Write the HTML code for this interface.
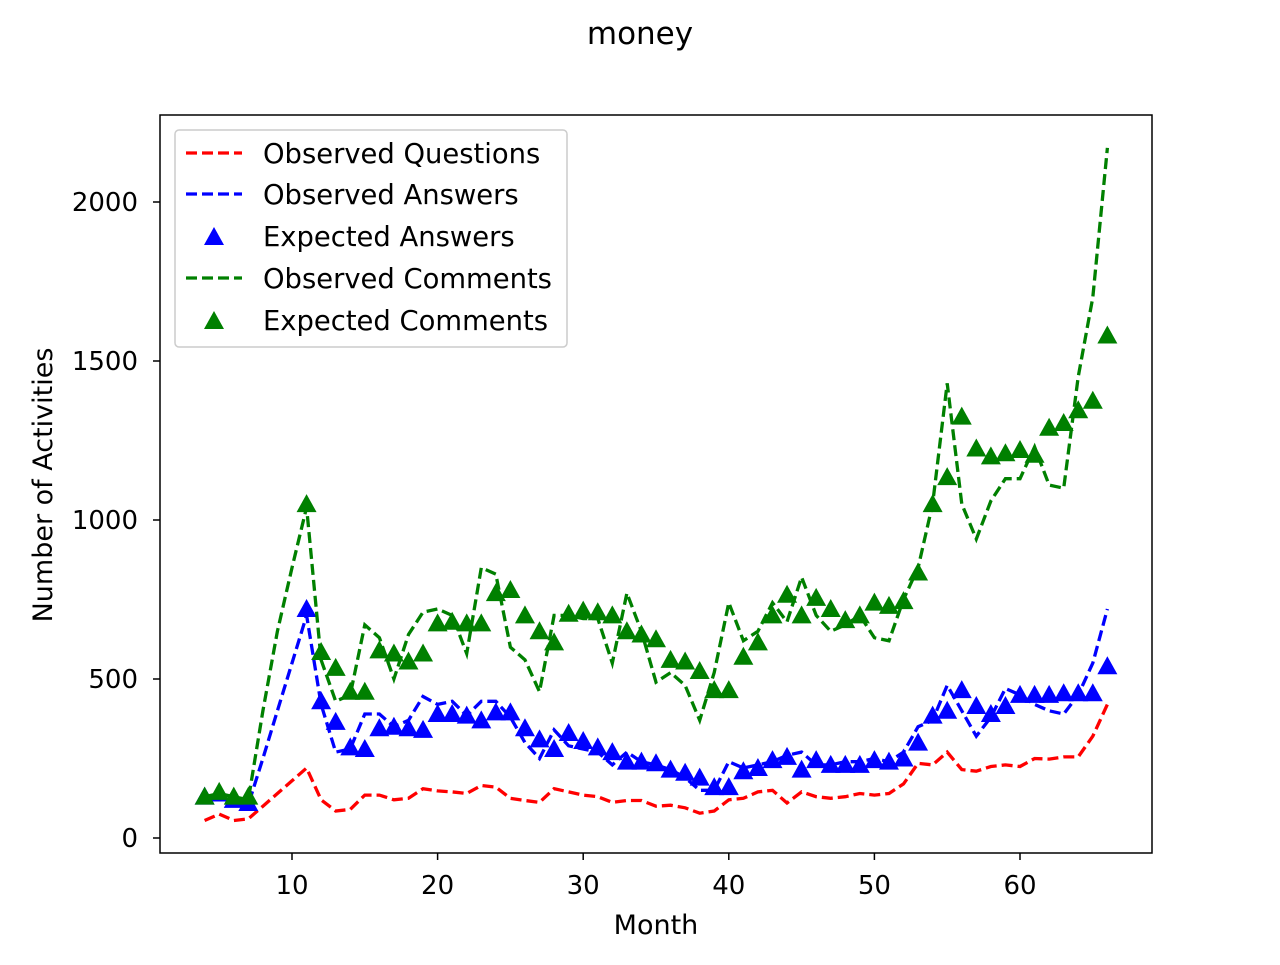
<!DOCTYPE html>
<html><head><meta charset="utf-8"><style>
body{margin:0;background:#fff;font-family:"Liberation Sans","DejaVu Sans",sans-serif}
svg text{font-family:"DejaVu Sans","Liberation Sans",sans-serif}
</style></head><body>
<svg id="chart" width="1280" height="960" xmlns="http://www.w3.org/2000/svg">
<rect width="1280" height="960" fill="#fff"/>
<text x="640" y="44" font-size="31" text-anchor="middle">money</text>
<g id="marks"></g>
<rect x="160" y="115" width="992" height="738" fill="none" stroke="#000" stroke-width="1.5"/>
<g id="axes"></g>
<text x="656" y="934" font-size="27" text-anchor="middle">Month</text>
<text x="52" y="485" font-size="27" text-anchor="middle" transform="rotate(-90 52 485)">Number of Activities</text>
<g>
<rect x="175" y="130" width="392" height="217" fill="#fff" fill-opacity="0.8" stroke="#ccc" stroke-width="1.5" rx="4"/>
<line x1="186" y1="153" x2="242" y2="153" stroke="red" stroke-width="3.3" stroke-dasharray="11,5"/>
<text x="263" y="163" font-size="27.4">Observed Questions</text>
<line x1="186" y1="194" x2="242" y2="194" stroke="blue" stroke-width="3.3" stroke-dasharray="11,5"/>
<text x="263" y="204" font-size="27.4">Observed Answers</text>
<polygon points="214,227 224,245 204,245" fill="blue"/>
<text x="263" y="246" font-size="27.4">Expected Answers</text>
<line x1="186" y1="278" x2="242" y2="278" stroke="green" stroke-width="3.3" stroke-dasharray="11,5"/>
<text x="263" y="288" font-size="27.4">Observed Comments</text>
<polygon points="214,311 224,329 204,329" fill="green"/>
<text x="263" y="330" font-size="27.4">Expected Comments</text>
</g>
</svg>
<script>
const months=[];for(let m=4;m<=66;m++)months.push(m);
const obsQuestions=[55,75,55,60,100,140,180,220,120,85,90,135,135,120,125,155,148,145,140,165,160,125,118,112,155,145,135,130,112,118,118,100,103,95,78,85,120,125,145,150,110,145,130,125,130,140,135,140,170,235,230,270,215,210,225,230,225,250,248,255,255,320,420];
const obsAnswers=[125,130,110,105,250,400,550,700,420,270,280,390,390,350,370,445,420,430,385,430,430,380,300,250,340,290,280,270,230,270,240,230,215,190,150,150,240,220,230,240,260,270,230,230,240,240,250,240,270,350,370,480,400,320,380,470,450,420,400,390,450,550,720];
const expAnswers=[130,140,120,110,null,null,null,720,430,365,285,280,345,350,345,340,390,390,385,370,395,395,345,310,280,330,305,285,270,240,240,235,215,205,190,160,160,210,220,245,255,215,245,230,230,230,245,240,250,300,385,400,465,415,390,415,450,450,450,455,455,455,540];
const obsComments=[130,140,130,120,400,650,850,1040,560,430,450,670,630,500,640,710,720,700,580,850,830,600,560,460,700,700,690,690,550,770,650,490,520,480,370,520,740,620,650,740,680,820,700,650,670,700,630,620,750,850,1050,1430,1050,940,1060,1130,1130,1230,1110,1100,1450,1700,2170];
const expComments=[130,145,130,130,null,null,null,1050,585,535,460,460,590,580,555,580,675,680,675,675,770,780,700,650,615,705,715,710,700,650,640,625,560,555,525,465,465,570,615,700,765,700,755,720,685,700,740,730,745,835,1050,1135,1325,1225,1200,1210,1220,1205,1290,1305,1345,1375,1580];
const xTicks=[10,20,30,40,50,60];
const yTicks=[0,500,1000,1500,2000];
const NS='http://www.w3.org/2000/svg';
const X=v=>292+(v-10)*14.56;
const Y=v=>838-v*0.318;
const marks=document.getElementById('marks'),axes=document.getElementById('axes');
function mk(t,a,p){const e=document.createElementNS(NS,t);for(const k in a)e.setAttribute(k,a[k]);p.appendChild(e);return e;}
function line(vals,color,name){
  const pts=vals.map((v,i)=>X(months[i]).toFixed(1)+','+Y(v).toFixed(1)).join(' ');
  const e=mk('polyline',{points:pts,fill:'none',stroke:color,'stroke-width':3.3,'stroke-dasharray':'11,5'},marks);
  
  
}
function tri(vals,color,name){
  vals.forEach((v,i)=>{if(v==null)return;const x=X(months[i]),y=Y(v);
    const e=mk('polygon',{points:`${x},${y-10} ${x+10},${y+8} ${x-10},${y+8}`,fill:color},marks);
    
    });
}
line(obsQuestions,'red','observed-questions-line');
line(obsAnswers,'blue','observed-answers-line');
tri(expAnswers,'blue','expected-answers-marker');
line(obsComments,'green','observed-comments-line');
tri(expComments,'green','expected-comments-marker');
xTicks.forEach(t=>{const x=X(t);mk('line',{x1:x,x2:x,y1:853,y2:860,stroke:'#000','stroke-width':1.5},axes);
  const e=mk('text',{x:x,y:894,'font-size':26,'text-anchor':'middle'},axes);e.textContent=t;
  
  });
yTicks.forEach(t=>{const y=Y(t);mk('line',{x1:153,x2:160,y1:y,y2:y,stroke:'#000','stroke-width':1.5},axes);
  const e=mk('text',{x:138,y:y+9,'font-size':26,'text-anchor':'end'},axes);e.textContent=t;
  
  });
</script>
</body></html>
